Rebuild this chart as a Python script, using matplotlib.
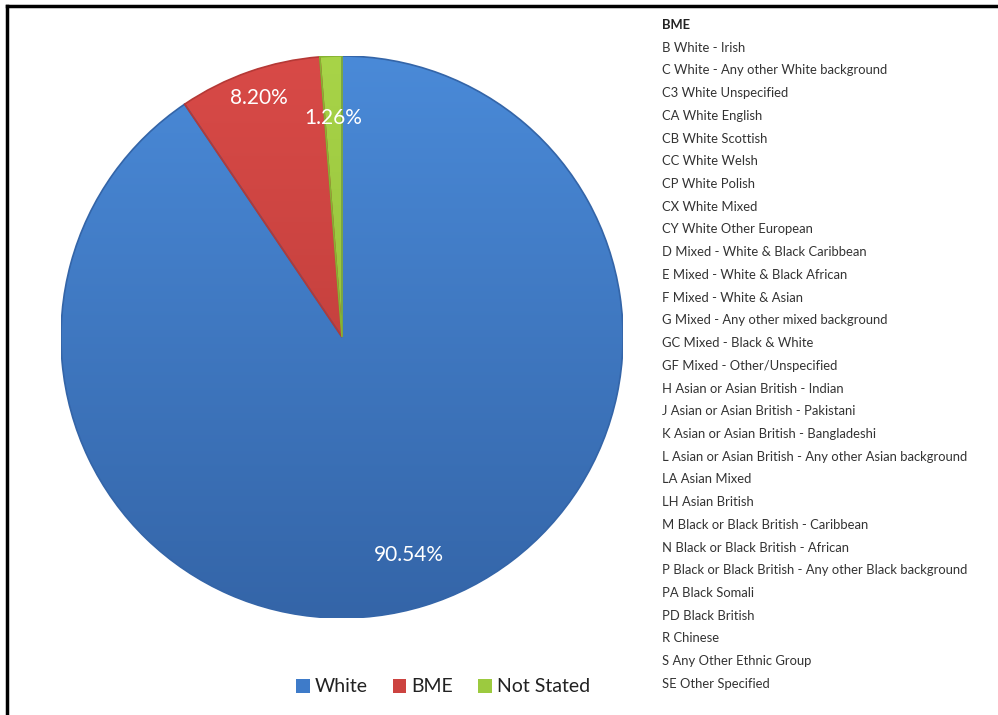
import numpy as np
import matplotlib
matplotlib.use("Agg")
import matplotlib.pyplot as plt
from matplotlib.lines import Line2D
from matplotlib.patches import Wedge
from matplotlib.colors import LinearSegmentedColormap

plt.rcParams['font.family'] = ['Lato', 'DejaVu Sans']

# ---- data ----
categories = ["White", "BME", "Not Stated"]
values = [90.54, 8.20, 1.26]
pct_labels = ["90.54%", "8.20%", "1.26%"]
bme_header = "BME"
bme_items = [
    "B White - Irish",
    "C White - Any other White background",
    "C3 White Unspecified",
    "CA White English",
    "CB White Scottish",
    "CC White Welsh",
    "CP White Polish",
    "CX White Mixed",
    "CY White Other European",
    "D Mixed - White & Black Caribbean",
    "E Mixed - White & Black African",
    "F Mixed - White & Asian",
    "G Mixed - Any other mixed background",
    "GC Mixed - Black & White",
    "GF Mixed - Other/Unspecified",
    "H Asian or Asian British - Indian",
    "J Asian or Asian British - Pakistani",
    "K Asian or Asian British - Bangladeshi",
    "L Asian or Asian British - Any other Asian background",
    "LA Asian Mixed",
    "LH Asian British",
    "M Black or Black British - Caribbean",
    "N Black or Black British - African",
    "P Black or Black British - Any other Black background",
    "PA Black Somali",
    "PD Black British",
    "R Chinese",
    "S Any Other Ethnic Group",
    "SE Other Specified",
]

# ---- style ----
colors = ["#3E7BC9", "#CC4340", "#9CCA3F"]
grad_top = ["#4A8AD8", "#D84A47", "#A8D448"]
grad_bot = ["#3465A8", "#B53936", "#86B232"]
label_radius = [0.81, 0.90, 0.78]

W, H = 998, 715
fig = plt.figure(figsize=(W / 100, H / 100), dpi=100)

# pie axes: circle centred at (342, 337) px, radius 281 px
cx, cy, r = 342, 337, 281
ax = fig.add_axes([(cx - r) / W, 1 - (cy + r) / H, 2 * r / W, 2 * r / H])
wedges, _ = ax.pie(values, colors=colors, startangle=90, counterclock=False,
                   radius=1.0, wedgeprops=dict(edgecolor="none", linewidth=0))
ax.set_aspect("equal")
ax.axis("off")

# vertical gradient fill clipped to each wedge
grad = np.linspace(1, 0, 256).reshape(-1, 1)
for w, ct, cb in zip(wedges, grad_top, grad_bot):
    cmap = LinearSegmentedColormap.from_list("g", [cb, ct])
    im = ax.imshow(grad, extent=[-1, 1, -1, 1], cmap=cmap, aspect="auto",
                   origin="upper", zorder=w.get_zorder() + 0.1, vmin=0, vmax=1)
    im.set_clip_path(w)
    ax.add_patch(Wedge(w.center, w.r, w.theta1, w.theta2,
                       facecolor="none", edgecolor=cb, linewidth=1.2,
                       zorder=w.get_zorder() + 0.2))

# percentage labels
for w, lab, lr in zip(wedges, pct_labels, label_radius):
    ang = np.deg2rad((w.theta1 + w.theta2) / 2)
    ax.text(lr * np.cos(ang), lr * np.sin(ang), lab, color="white",
            fontsize=15, ha="center", va="center", zorder=10)

ax.set_xlim(-1, 1)
ax.set_ylim(-1, 1)

# legend
leg = fig.legend(wedges, categories, loc="center", bbox_to_anchor=(443 / W, 1 - 687 / H),
                 ncol=3, frameon=False, fontsize=14, handlelength=0.7, handleheight=0.7,
                 handletextpad=0.25, columnspacing=1.3)
for t in leg.get_texts():
    t.set_color("#222222")

# right-hand list
x0 = 662 / W
y_top = 25
step = 22.72
fs_list = 9.4
fig.text(x0, 1 - y_top / H, bme_header, fontsize=fs_list, fontweight="bold",
         color="#222222", ha="left", va="center")
for i, item in enumerate(bme_items):
    fig.text(x0, 1 - (y_top + (i + 1) * step) / H, item, fontsize=fs_list,
             color="#333333", ha="left", va="center")

# frame lines (top and left)
fig.add_artist(Line2D([7 / W, 1], [1 - 6 / H, 1 - 6 / H], color="black", linewidth=2.5,
                      transform=fig.transFigure))
fig.add_artist(Line2D([7 / W, 7 / W], [0, 1 - 6 / H], color="black", linewidth=2.5,
                      transform=fig.transFigure))

fig.savefig("out.png", dpi=100)
